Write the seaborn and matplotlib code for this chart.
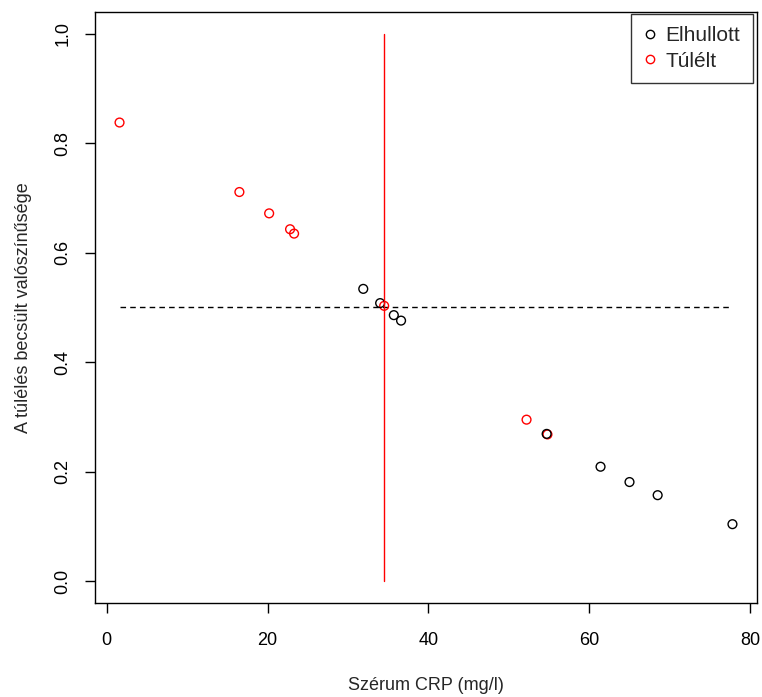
import matplotlib
matplotlib.use("Agg")
import matplotlib.pyplot as plt
import seaborn as sns
import pandas as pd
from matplotlib.lines import Line2D

# Data
crp_survived = [1.6, 16.5, 20.2, 22.8, 23.3, 34.5, 52.2, 54.8]
prob_survived = [0.838, 0.711, 0.672, 0.643, 0.635, 0.503, 0.295, 0.268]
crp_died = [31.9, 34.0, 35.7, 36.6, 54.7, 61.4, 65.0, 68.5, 77.8]
prob_died = [0.534, 0.508, 0.486, 0.476, 0.269, 0.209, 0.181, 0.157, 0.104]
groups = ["Elhullott", "Túlélt"]
colors = {"Elhullott": "black", "Túlélt": "red"}
cutoff_x = 34.5
cutoff_y = 0.5
x_ticks = [0, 20, 40, 60, 80]
y_ticks = [0.0, 0.2, 0.4, 0.6, 0.8, 1.0]

df = pd.DataFrame({
    "crp": crp_survived + crp_died,
    "prob": prob_survived + prob_died,
    "group": ["Túlélt"] * len(crp_survived) + ["Elhullott"] * len(crp_died),
})

sns.set_style("white")
plt.rcParams["font.family"] = ["Liberation Sans", "DejaVu Sans"]

fig = plt.figure(figsize=(7.62, 6.97), dpi=100)
ax = fig.add_axes([0.1247, 0.1349, 0.8687, 0.8479])

for g in ["Túlélt", "Elhullott"]:
    sub = df[df["group"] == g]
    sns.scatterplot(data=sub, x="crp", y="prob", ax=ax, marker="o", s=40,
                    facecolors="none", edgecolor=colors[g], linewidth=1.0,
                    legend=False, zorder=3)

xmin, xmax = df["crp"].min(), df["crp"].max()
ax.plot([xmin, xmax], [cutoff_y, cutoff_y], color="black", linestyle=(0, (4, 3)), linewidth=1.0, zorder=2)
ax.plot([cutoff_x, cutoff_x], [0, 1], color="red", linewidth=1.0, zorder=4)

rng = xmax - xmin
ax.set_xlim(xmin - 0.04 * rng, xmax + 0.04 * rng)
ax.set_ylim(-0.04, 1.04)
ax.set_xticks(x_ticks)
ax.set_yticks(y_ticks)
ax.set_xticklabels([str(t) for t in x_ticks])
ax.set_yticklabels([f"{t:.1f}" for t in y_ticks], rotation=90, va="center")
ax.tick_params(axis="both", bottom=True, left=True, direction="out", length=7, width=1,
               labelsize=13, colors="black")
ax.tick_params(axis="x", pad=14)
ax.tick_params(axis="y", pad=10)
for sp in ax.spines.values():
    sp.set_color("black")
    sp.set_linewidth(1.0)

ax.set_xlabel("Szérum CRP (mg/l)", fontsize=13, labelpad=20)
ax.set_ylabel("A túlélés becsült valószínűsége", fontsize=13, labelpad=16)

handles = [Line2D([0], [0], marker="o", linestyle="none", markerfacecolor="none",
                  markeredgecolor=colors[g], markersize=6, markeredgewidth=1.0) for g in groups]
leg = ax.legend(handles, groups, loc="upper right", bbox_to_anchor=(0.994, 0.997), frameon=True, fancybox=False,
                fontsize=15, borderpad=0.6, handletextpad=0.45, labelspacing=0.3, handlelength=0.6,
                borderaxespad=0.0)
leg.get_frame().set_edgecolor("black")
leg.get_frame().set_linewidth(1.0)

fig.savefig("out.png", dpi=100)
